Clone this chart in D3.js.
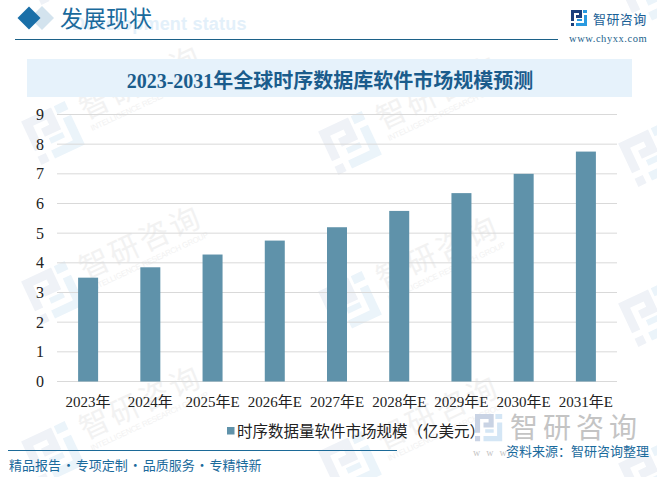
<!DOCTYPE html>
<html>
<head>
    <meta charset="utf-8">
    <title>2023-2031年全球时序数据库软件市场规模预测</title>
    <style>
        html, body { margin: 0; padding: 0; background: #fff; overflow: hidden; }
        text { font-family: "Liberation Serif", "Noto Sans CJK SC", serif; }
        .cjk { font-family: "Noto Sans CJK SC", sans-serif; }
    </style>
</head>
<body>
<script src="https://cdnjs.cloudflare.com/ajax/libs/d3/7.8.5/d3.min.js"></script>
<script>
    // Chart data
    const categories = ["2023年", "2024年", "2025年E", "2026年E", "2027年E", "2028年E", "2029年E", "2030年E", "2031年E"];
    const values = [3.5, 3.85, 4.28, 4.75, 5.2, 5.75, 6.35, 7.0, 7.75];
    const yTicks = [0, 1, 2, 3, 4, 5, 6, 7, 8, 9];
    const seriesName = "时序数据量软件市场规模（亿美元）";
    const chartTitle = "2023-2031年全球时序数据库软件市场规模预测";
    const footerText = "精品报告 · 专项定制 · 品质服务 · 专精特新";

    const width = 657, height = 477;
    const svg = d3.select("body").append("svg")
        .attr("width", width)
        .attr("height", height)
        .style("display", "block");

    // Logo made of two bracket shapes, drawn on a 16 unit box
    function logo(g, x, y, s, dark, light) {
        const l = g.append("g").attr("transform", `translate(${x},${y}) scale(${s})`);
        l.append("path").attr("fill", dark)
            .attr("d", "M0 0H11V8H5V5H8V3H3V11H0ZM0 13H3V16H0Z");
        l.append("path").attr("fill", light)
            .attr("d", "M12 0H16V3H12ZM13 5H16V16H5V13H13ZM6 9H11V11H6Z");
    }

    // Background watermark: one logo with its name to the upper right
    function watermark(lx, ly, withText) {
        const l = svg.append("g").attr("transform", `translate(${lx},${ly}) rotate(-25)`);
        logo(l, -24, -24, 3, "#eff2f7", "#ebf4fa");
        if (!withText) return;
        const g = svg.append("g").attr("transform", `translate(${lx + 88},${ly - 50}) rotate(-25)`);
        g.append("text").attr("class", "cjk")
            .attr("text-anchor", "middle").attr("y", 10)
            .attr("font-size", 30).attr("fill", "#f2f2f2")
            .attr("letter-spacing", 3)
            .text("智研咨询");
        g.append("text").style("font-family", "Liberation Sans")
            .attr("text-anchor", "middle").attr("y", 23)
            .attr("font-size", 8).attr("fill", "#f2f2f2")
            .attr("textLength", 129)
            .text("INTELLIGENCE RESEARCH GROUP");
    }
    [133, 293, 453].forEach(ly => watermark(53, ly, true));
    [143, 303, 463].forEach(ly => watermark(350, ly, true));
    watermark(53, -27, false);
    [-5, 155, 315, 475].forEach(ly => watermark(650, ly, false));

    // Header
    const diamond = (cx, cy, r) => `M${cx - r} ${cy}L${cx} ${cy - r}L${cx + r} ${cy}L${cx} ${cy + r}Z`;
    svg.append("path").attr("d", diamond(42, 18, 12)).attr("fill", "#d3e3ee");
    svg.append("path").attr("d", diamond(29, 18, 11.5)).attr("fill", "#1a6fa8");
    svg.append("text").attr("x", 72).attr("y", 30)
        .style("font-family", "Liberation Sans")
        .attr("font-size", 18).attr("font-weight", "bold")
        .attr("fill", "#e3f0fa").attr("letter-spacing", 0.2)
        .text("Development status");
    svg.append("text").attr("class", "cjk").attr("x", 60).attr("y", 27)
        .attr("font-size", 23).attr("fill", "#1a6a9c")
        .text("发展现状");
    svg.append("line").attr("x1", 15).attr("x2", 558).attr("y1", 39.5).attr("y2", 39.5)
        .attr("stroke", "#1c6188").attr("stroke-width", 1);

    logo(svg, 571, 10, 1, "#1c3f7c", "#2a9ae0");
    svg.append("text").attr("class", "cjk").attr("x", 593).attr("y", 24)
        .attr("font-size", 13).attr("fill", "#1a5f96").attr("letter-spacing", 0.4)
        .text("智研咨询");
    svg.append("text").attr("x", 569).attr("y", 42)
        .attr("font-size", 10.5).attr("fill", "#1c5f8c").attr("letter-spacing", 0.55)
        .text("www.chyxx.com");

    // Title band
    svg.append("rect").attr("x", 27).attr("y", 59).attr("width", 605).attr("height", 38)
        .attr("fill", "#e6f2fb");
    svg.append("text").attr("x", 330).attr("y", 88)
        .attr("text-anchor", "middle").attr("font-size", 20).attr("font-weight", "bold")
        .attr("fill", "#1a5c8c")
        .text(chartTitle);

    // Scales
    const x = d3.scaleBand().domain(categories).range([57, 617]);
    const y = d3.scaleLinear().domain([0, 9]).range([381.5, 114.5]);

    // Gridlines
    svg.append("g").selectAll("line").data(yTicks).join("line")
        .attr("x1", 57).attr("x2", 617)
        .attr("y1", d => y(d)).attr("y2", d => y(d))
        .attr("stroke", "#d9d9d9").attr("stroke-width", 1);

    // Bars
    svg.append("g").selectAll("rect").data(values).join("rect")
        .attr("x", (d, i) => x(categories[i]) + x.bandwidth() / 2 - 10)
        .attr("width", 20)
        .attr("y", d => y(d))
        .attr("height", d => y(0) - y(d))
        .attr("fill", "#5f92aa");

    // Y labels
    svg.append("g").selectAll("text").data(yTicks).join("text")
        .attr("x", 40).attr("y", d => y(d) + 5.5)
        .attr("text-anchor", "middle").attr("font-size", 16).attr("fill", "#222")
        .text(d => d);

    // X labels
    svg.append("g").selectAll("text").data(categories).join("text")
        .attr("x", d => x(d) + x.bandwidth() / 2)
        .attr("y", 407)
        .attr("text-anchor", "middle").attr("font-size", 15).attr("fill", "#222")
        .text(d => d);

    // Legend
    svg.append("rect").attr("x", 227).attr("y", 427).attr("width", 7.5).attr("height", 7.5)
        .attr("fill", "#5f92aa");
    svg.append("text").attr("class", "cjk").attr("x", 237).attr("y", 437)
        .attr("font-size", 15.5).attr("fill", "#222")
        .text(seriesName);

    // Footer
    svg.append("line").attr("x1", 8).attr("x2", 397).attr("y1", 450.5).attr("y2", 450.5)
        .attr("stroke", "#1c6a98").attr("stroke-width", 1);
    svg.append("text").attr("class", "cjk").attr("x", 9).attr("y", 470)
        .attr("font-size", 13).attr("fill", "#1a6a9c")
        .attr("word-spacing", -2)
        .text(footerText);

    // Bottom right stamp
    logo(svg, 475, 414, 1.7, "#c9d3e4", "#d4e6f5");
    svg.append("text").attr("class", "cjk").attr("x", 510).attr("y", 438)
        .attr("font-size", 28).attr("fill", "#c4c4c4").attr("letter-spacing", 5)
        .text("智研咨询");
    svg.append("text").attr("x", 473).attr("y", 456)
        .attr("font-size", 10).attr("fill", "#c4c4c4").attr("letter-spacing", 6)
        .text("www.");
    svg.append("text").attr("class", "cjk").attr("x", 506).attr("y", 456)
        .attr("font-size", 13).attr("fill", "#1a6a9c")
        .text("资料来源：智研咨询整理");
</script>
</body>
</html>
